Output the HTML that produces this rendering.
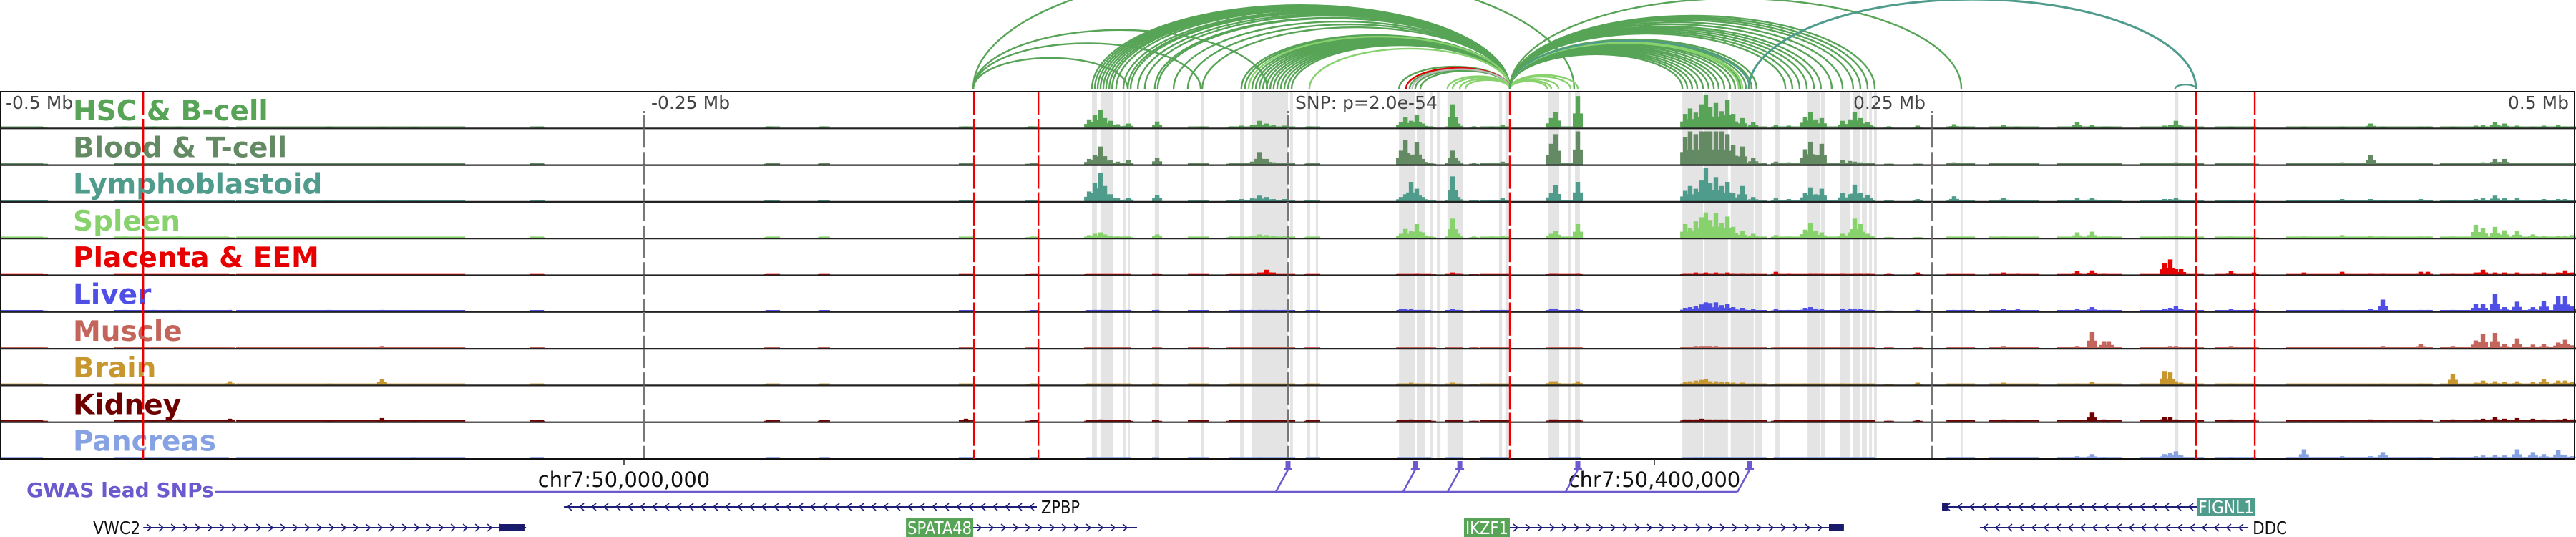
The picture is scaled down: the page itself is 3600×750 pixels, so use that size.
<!DOCTYPE html>
<html><head><meta charset="utf-8"><title>Regulatory tracks around the chr7 GWAS locus</title>
<style>
html,body{margin:0;padding:0;background:#fff;}
svg{display:block;font-family:"DejaVu Sans","Liberation Sans",sans-serif;}
</style></head>
<body>
<svg id="chart" width="3600" height="750" viewBox="0 0 3600 750" xmlns="http://www.w3.org/2000/svg">
<g id="shade"></g>
<g id="signal"></g>
<g id="arcs"></g>
<g id="frame"></g>
<g id="labels"></g>
<g id="reds"></g>
<g id="bottom"></g>
</svg>
<script>
// ---------- data ----------
const trackNames = ["HSC & B-cell","Blood & T-cell","Lymphoblastoid","Spleen","Placenta & EEM","Liver","Muscle","Brain","Kidney","Pancreas"];
const trackColors = ["#57a457","#648a64","#4f9c8c","#88d26e","#e60000","#4f4fe6","#c4655c","#c8962e","#6e0000","#86a2e2"];
// peak positions in kb relative to lead SNP
const peakKb = [-483.3,-451.4,-440.3,-430.6,-410.8,-372.2,-351.7,-339.4,-290.3,-201.4,-180.6,-125.0,-100.0,
-77.2,-75.0,-72.8,-71.1,-68.9,-66.1,-61.9,-50.8,-33.3,-22.2,-18.1,-13.9,-11.1,-8.3,-5.6,-1.4,8.3,
43.9,45.6,47.8,50.0,52.2,55.6,63.9,66.1,72.2,79.2,83.3,102.2,103.9,112.5,
154.2,156.1,158.3,160.6,162.2,163.9,166.1,168.3,170.6,172.8,176.4,180.6,189.4,194.4,
200.8,202.8,205.0,207.2,215.3,218.1,220.0,222.2,225.0,233.3,244.4,258.6,262.5,277.8,283.3,
306.4,312.2,316.7,318.6,340.3,342.5,344.7,346.7,366.1,375.0,394.4,409.2,420.3,425.0,439.7,442.5,
452.2,461.1,463.9,468.6,472.2,477.2,483.3,487.5,493.1,495.8,498.6];
const sigHSC   = [1,2,2,2,1,2,1,1,1,2,2,2,2, 12,18,26,14,10,5,6,9,2,2,3,4,10,6,4,3,2, 8,15,10,19,6,2,34,6,2,2,4,14,23,46, 20,28,22,34,48,30,36,24,40,20,14,8,4,3, 16,23,12,14,10,12,23,14,8,2,3,5,2,4,2, 8,4,2,2,3,4,10,3,2,2,2,2,6,2,2,2, 2,3,4,8,6,3,2,3,4,2,2];
const sigBlood = [1,1,1,1,1,1,1,1,1,1,1,1,1, 8,14,26,12,6,4,6,10,1,2,2,4,18,8,3,2,2, 20,36,14,32,8,2,20,5,2,2,4,30,44,48, 40,48,44,48,48,48,48,48,44,28,26,10,4,3, 22,33,14,30,6,5,4,3,2,1,1,3,1,2,1, 2,2,1,1,1,2,3,1,1,1,1,3,14,2,1,1, 1,2,3,8,8,2,1,2,2,1,1];
const sigLymph = [1,2,2,2,1,1,1,1,1,2,2,2,2, 14,27,41,22,10,4,5,9,2,2,3,4,8,6,3,3,2, 6,10,28,18,6,2,36,6,2,2,4,12,23,28, 15,22,18,30,48,26,35,22,28,12,22,6,4,3, 12,20,10,18,12,10,24,12,9,2,3,7,2,5,2, 4,5,2,2,3,3,5,2,2,2,2,3,3,2,3,2, 2,3,4,8,4,4,2,3,3,3,2];
const sigSpleen= [1,2,1,2,1,1,1,1,1,1,1,1,1, 4,6,8,5,3,2,2,5,1,2,2,3,5,4,3,2,1, 6,13,10,20,8,2,28,6,2,2,3,6,10,20, 20,14,24,30,37,26,36,22,31,16,10,6,4,2, 12,21,10,8,6,8,28,20,6,1,1,1,1,2,1, 8,9,2,2,2,2,3,2,2,1,2,4,3,2,2,2, 2,19,14,16,11,10,5,3,3,3,4];
const sigPlac  = [1,1,1,1,1,1,1,1,1,1,1,1,1, 1,1,1,1,1,0,0,1,1,1,1,2,3,7,3,1,1, 1,1,1,2,1,1,3,2,1,1,1,2,2,2, 2,2,3,2,3,2,3,2,3,2,2,2,4,2, 1,2,2,2,2,1,2,2,2,2,3,1,1,3,2, 5,6,2,1,17,22,8,8,5,3,3,4,2,2,4,4, 2,3,7,3,3,3,2,3,3,6,3];
const sigLiver = [1,2,2,2,2,2,2,1,1,1,1,1,1, 1,2,2,1,1,1,2,2,1,1,2,2,2,2,2,2,1, 3,3,3,2,2,1,3,2,1,1,2,4,4,4, 5,6,8,10,13,12,13,9,11,6,5,3,3,2, 5,6,4,4,4,4,4,3,2,1,2,2,2,3,3, 4,6,2,2,4,5,8,3,3,4,1,2,4,17,2,2, 2,11,11,25,6,14,6,15,22,22,7];
const sigMuscle= [1,1,1,1,1,2,3,1,1,1,1,1,1, 1,1,1,1,1,0,0,1,1,1,1,1,1,1,1,1,1, 1,1,2,1,1,1,2,1,1,1,1,2,2,2, 2,2,3,3,3,3,3,2,2,2,2,1,1,1, 1,2,1,2,1,1,1,1,1,1,1,1,1,3,1, 3,24,10,10,2,3,3,2,3,1,1,2,2,3,6,2, 3,11,20,22,6,14,5,6,8,12,4];
const sigBrain = [1,1,1,1,5,2,8,1,1,1,1,1,1, 1,1,1,1,1,0,0,1,1,1,1,1,1,1,1,1,1, 2,2,3,2,1,1,3,1,1,1,1,5,5,5, 4,5,6,7,8,5,5,4,4,3,3,2,1,1, 2,2,2,2,2,1,1,1,1,1,3,1,1,3,1, 2,4,1,1,20,18,5,3,2,1,1,1,1,2,2,1, 16,3,6,5,4,5,4,8,6,6,4];
const sigKidney= [1,2,2,3,4,2,5,1,1,1,1,4,1, 1,2,3,1,1,1,1,1,1,1,1,2,2,2,2,2,1, 2,2,3,2,2,1,2,1,1,1,2,3,3,3, 3,3,3,4,3,3,3,3,3,2,2,2,2,1, 2,2,2,2,2,2,2,2,1,1,2,1,1,3,1, 2,13,3,2,7,6,3,2,3,3,2,2,3,2,3,2, 3,3,4,7,4,5,4,3,3,4,3];
const sigPanc  = [1,1,1,1,1,1,1,2,1,1,1,1,1, 1,1,1,1,1,0,0,1,1,1,1,1,2,1,1,1,1, 1,1,1,1,1,1,2,1,1,1,1,1,1,2, 1,1,2,2,2,2,2,2,2,1,1,1,2,1, 1,1,1,1,1,1,1,1,1,1,1,1,1,1,1, 3,6,2,1,6,8,10,4,2,2,13,3,3,9,2,2, 2,3,4,5,4,13,9,6,12,5,3];
const trackSignals = [sigHSC,sigBlood,sigLymph,sigSpleen,sigPlac,sigLiver,sigMuscle,sigBrain,sigKidney,sigPanc];
// low-level background signal ranges [startKb, endKb]
const bgStart = [-500,-455.6,-408.3,-294.4,-202.8,-181.9,-127.8,-100,-78.3,-52.8,-38.9,-22.8,6.9,42.2,61.1,74.4,101.4,152.8,188.9,255.6,272.2,298.6,330.6,359.7,387.5,447.2];
const bgEnd   = [-483.3,-411.1,-319.4,-288.9,-197.2,-177.8,-121.7,-96.7,-61.1,-50,-30.6,2.8,12.5,55.6,68.1,86.1,113.9,186.1,227.8,266.7,291.7,323.6,355.6,375,444.4,500];
// highlighted (grey) regions
const shadeStart = [-76.1,-72.8,-63.9,-62.2,-51.7,-33.9,-18.6,-14.2,0.8,7.5,10.8,43.1,50.0,55.0,57.8,61.9,81.9,84.4,101.1,108.6,111.4,153.1,161.7,171.9,181.2,189.2,201.7,206.9,214.2,219.4,222.8,225.6,227.5,261.1,344.4];
const shadeEnd   = [-74.2,-67.8,-63.1,-61.4,-50.0,-32.5,-17.2,0,1.9,8.6,11.7,49.2,53.3,56.4,59.2,67.8,83.1,85.6,105.3,110.0,113.3,161.1,170.8,180.8,183.9,190.8,206.4,208.6,218.3,222.2,224.7,226.7,228.6,261.9,345.6];
const redLinesKb = [-444.4,-121.9,-96.9,86.1,352.5,375.3];
const greyTicksKb = [-250,0,250];
// arcs: start kb, end kb, colour class (0 dark green,1 light green,2 teal,3 red,4 grey)
const arcStart = [];
const arcEnd = [];
const arcCls = [];
const arcBundles = [
 [86.1, [-76.1,-75.0,-73.9,-72.8,-71.7,-70.6,-69.4,-68.3,-66.7,-63.9,-62.2,-61.1,-58.3,-55.6,-51.7,-50.6,-44.4,-38.9,-33.3], 0],
 [86.1, [-18.1,-16.7,-13.9,-12.5,-11.1,-9.7,-8.3,-6.9,-5.6,-4.2,-2.8,-1.4,0,1.4], 0],
 [86.1, [8.3,-15.3], 1],
 [-122.2, [-62.2,-33.9,-8.1,111.1], 0],
 [86.1, [43.1,47.2,49.4,51.4], 0],
 [86.1, [45.8], 3],
 [86.1, [48.2], 4],
 [86.1, [61.9,63.9,66.7,68.9,100.6,102.2,105,109.7,112.5], 1],
 [86.1, [153.1,155,156.9,158.9,161.1,163.3,165.3,167.2,169.4,171.7,173.6,175.6,177.8,180,181.9], 0],
 [86.1, [175,176.4], 1],
 [86.1, [179.2], 2],
 [86.1, [193.1,195.8,198.6,201.4,204.2,206.9,211.1,215.3,219.4,222.2,225,227.8,261.4], 0],
 [178.9, [352.5], 2],
 [344.4, [352.5], 2]
];
arcBundles.forEach(b => b[1].forEach(e => { arcStart.push(b[0]); arcEnd.push(e); arcCls.push(b[2]); }));
const arcColors = ["#57a457","#88d26e","#4f9c8c","#e00000","#bbbbbb"];
// GWAS lead SNPs (kb)
const snpKb = [0,49.4,66.7,112.5,179.2];
// genes
const geneNames  = ["VWC2","ZPBP","SPATA48","IKZF1","FIGNL1","DDC"];
const geneStart  = [-444.4,-281.1,-122.2,86.1,253.9,268.6];
const geneEnd    = [-295.8,-97.5,-58.6,215.8,352.8,372.8];
const geneStrand = [1,-1,1,1,-1,-1];
const geneRow    = [1,0,1,1,0,1];
const geneBoxed  = [0,0,1,1,1,0];
const geneBoxColor = ["","","#57a457","#57a457","#4f9c8c",""];
const geneThickS = [-306.1,null,null,210,253.9,null];
const geneThickE = [-296.4,null,null,215.8,256.1,null];
const geneLabelW = [66,54,90,60,78,48];

// ---------- scales ----------
const NS = "http://www.w3.org/2000/svg";
const X = kb => (kb + 500) * 3.6;
const TOP = 128, TH = 51.3, NT = 10;
const trackTop = i => TOP + i * TH;
const trackBase = i => TOP + (i + 1) * TH - 1;
const Y = (i, v) => trackBase(i) - v * 0.96;
function mk(tag, attrs, parent) { const e = document.createElementNS(NS, tag); for (const k in attrs) e.setAttribute(k, attrs[k]); parent.appendChild(e); return e; }
const gShade = document.getElementById("shade"), gSig = document.getElementById("signal"), gArc = document.getElementById("arcs"),
      gFrame = document.getElementById("frame"), gLab = document.getElementById("labels"), gRed = document.getElementById("reds"), gBot = document.getElementById("bottom");
const BOTTOM = TOP + NT * TH;

// shading
shadeStart.forEach((s, i) => {
  const r = mk("rect", {x: X(s), y: TOP, width: Math.max(2, X(shadeEnd[i]) - X(s)), height: BOTTOM - TOP, fill: "#e4e4e4"}, gShade);
  
  
});

// signal tracks
trackSignals.forEach((sig, t) => {
  const g = mk("g", {}, gSig);
  
  
  bgStart.forEach((s, j) => {
    mk("rect", {x: X(s), y: trackBase(t) - 1.8, width: X(bgEnd[j]) - X(s), height: 1.8, fill: trackColors[t]}, g);
  });
  peakKb.forEach((p, j) => {
    const v = sig[j];
    if (!v) return;
    const x = X(p);
    // shoulders
    const sh = Math.max(1, v * 0.45);
    mk("rect", {x: x - 7, y: Y(t, sh), width: 14, height: trackBase(t) - Y(t, sh), fill: trackColors[t]}, g);
    const b = mk("rect", {x: x - 3.2, y: Y(t, v), width: 6.4, height: trackBase(t) - Y(t, v), fill: trackColors[t]}, g);
    
    
  });
});

// arcs
const AY = 124;
arcStart.forEach((s, i) => {
  const x1 = X(Math.min(s, arcEnd[i])), x2 = X(Math.max(s, arcEnd[i]));
  const hw = (x2 - x1) / 2, b = 0.4 * hw;
  const p = mk("path", {d: `M${x1},${AY} A${hw},${b} 0 0 1 ${x2},${AY}`, fill: "none", stroke: arcColors[arcCls[i]], "stroke-width": arcCls[i] === 2 && hw > 200 ? 3 : 2.4}, gArc);
  
  
});

// frame + separators
const fr = mk("rect", {x: 1, y: TOP, width: 3597, height: BOTTOM - TOP, fill: "none", stroke: "#111", "stroke-width": 2}, gFrame);


for (let i = 1; i < NT; i++) {
  const l = mk("line", {x1: 0, x2: 3600, y1: trackTop(i), y2: trackTop(i), stroke: "#222", "stroke-width": 2.2}, gFrame);
  
  
}
// grey position ticks
greyTicksKb.forEach(k => {
  for (let i = 0; i < NT; i++) {
    mk("line", {x1: X(k), x2: X(k), y1: trackTop(i) + (i === 0 ? 30 : 0), y2: trackTop(i) + 27, stroke: "#777", "stroke-width": 2}, gFrame);
    mk("line", {x1: X(k), x2: X(k), y1: trackTop(i) + 33, y2: trackTop(i) + TH - 1, stroke: "#777", "stroke-width": 2}, gFrame);
  }
});
// axis labels
const axisLabels = [["-0.5 Mb", 8, "start"], ["-0.25 Mb", 910, "start"], ["0.25 Mb", 2590, "start"], ["0.5 Mb", 3590, "end"]];
axisLabels.forEach(a => {
  const t = mk("text", {x: a[1], y: 152, "font-size": 25, fill: "#444", "text-anchor": a[2]}, gLab);
  t.textContent = a[0];
  
  
});
const snpT = mk("text", {x: 1810, y: 152, "font-size": 25, fill: "#444"}, gLab);
snpT.textContent = "SNP: p=2.0e-54";


// track labels
trackNames.forEach((n, i) => {
  const t = mk("text", {x: 102, y: trackTop(i) + 40, "font-size": 39, "font-weight": "bold", fill: trackColors[i]}, gLab);
  t.textContent = n;
  
  
});
// red dashed lines
redLinesKb.forEach(k => {
  for (let i = 0; i < NT; i++) {
    mk("line", {x1: X(k), x2: X(k), y1: trackTop(i), y2: trackTop(i) + 33, stroke: "#ee0000", "stroke-width": 2.4}, gRed);
    mk("line", {x1: X(k), x2: X(k), y1: trackTop(i) + 38, y2: trackTop(i) + TH, stroke: "#ee0000", "stroke-width": 2.4}, gRed);
  }
});

// bottom axis ticks
[[872, "chr7:50,000,000"], [2312, "chr7:50,400,000"]].forEach(a => {
  mk("line", {x1: a[0], x2: a[0], y1: BOTTOM, y2: BOTTOM + 9, stroke: "#222", "stroke-width": 1.5}, gBot);
  const t = mk("text", {x: a[0], y: 680, "font-size": 29, fill: "#111", "text-anchor": "middle"}, gBot);
  t.textContent = a[1];
  
  
});
// GWAS
const gw = mk("text", {x: 37, y: 694, "font-size": 28, "font-weight": "bold", fill: "#6a5acd"}, gBot);
gw.textContent = "GWAS lead SNPs";


const lastX = X(snpKb[snpKb.length - 1]) - 17;
mk("line", {x1: 300, x2: lastX, y1: 687, y2: 687, stroke: "#6a5acd", "stroke-width": 2.5}, gBot);
snpKb.forEach(k => {
  const x = X(k);
  mk("line", {x1: x - 17, y1: 687, x2: x, y2: 656, stroke: "#6a5acd", "stroke-width": 2.5}, gBot);
  const r = mk("rect", {x: x - 3.5, y: 644, width: 7, height: 12, fill: "#6a5acd"}, gBot);
  
  
  mk("rect", {x: x - 6, y: 654, width: 12, height: 2.5, fill: "#6a5acd"}, gBot);
});
// genes
const rowY = [708, 737];
geneNames.forEach((n, i) => {
  const g = mk("g", {}, gBot);
  
  
  const y = rowY[geneRow[i]], x1 = X(geneStart[i]), x2 = X(geneEnd[i]);
  mk("line", {x1: x1, x2: x2, y1: y, y2: y, stroke: "#1e1e78", "stroke-width": 2}, g);
  for (let x = x1 + 8; x < x2 - 6; x += 17) {
    const d = geneStrand[i] > 0 ? `M${x - 3},${y - 5} L${x + 3},${y} L${x - 3},${y + 5}` : `M${x + 3},${y - 5} L${x - 3},${y} L${x + 3},${y + 5}`;
    mk("path", {d: d, fill: "none", stroke: "#1e1e78", "stroke-width": 1.6}, g);
  }
  if (geneThickS[i] !== null) mk("rect", {x: X(geneThickS[i]), y: y - 5, width: X(geneThickE[i]) - X(geneThickS[i]), height: 10, fill: "#1a1a6a"}, g);
  const w = geneLabelW[i];
  let lx;
  if (geneBoxed[i]) {
    lx = geneStrand[i] > 0 ? x1 - w - 4 : x2;
    mk("rect", {x: lx, y: y - 13, width: w + 4, height: 26, fill: geneBoxColor[i]}, g);
    const t = mk("text", {x: lx + 2, y: y + 9, "font-size": 25, fill: "#fff", textLength: w, lengthAdjust: "spacingAndGlyphs"}, g);
    t.textContent = n;
  } else {
    lx = geneStrand[i] > 0 ? x1 - w - 4 : x2 + 6;
    const t = mk("text", {x: lx, y: y + 9, "font-size": 25, fill: "#111", textLength: w, lengthAdjust: "spacingAndGlyphs"}, g);
    t.textContent = n;
  }
});
</script>
</body></html>
